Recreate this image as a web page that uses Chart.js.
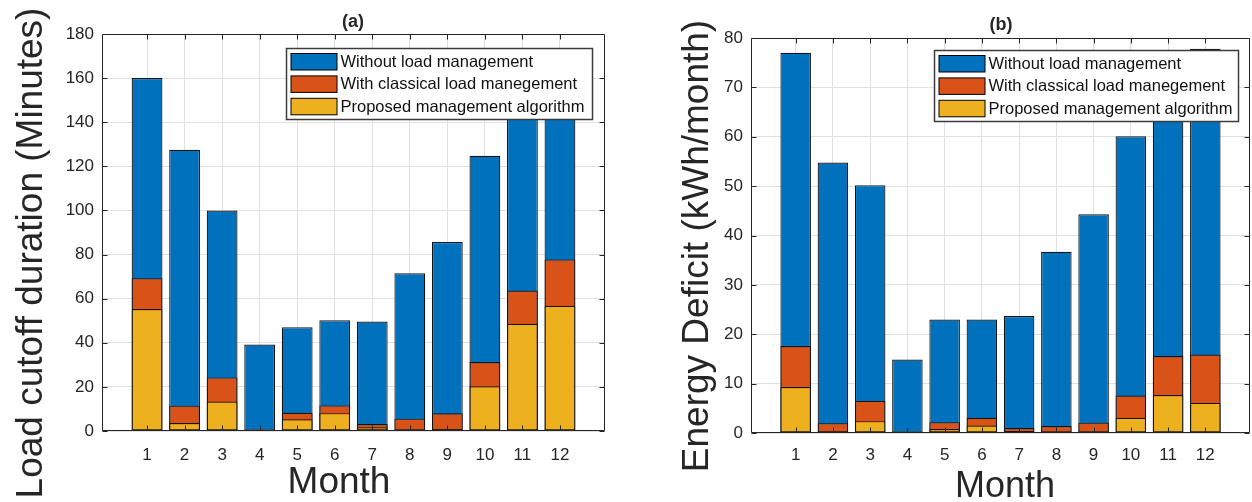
<!DOCTYPE html>
<html>
<head>
<meta charset="utf-8">
<script src="https://cdn.jsdelivr.net/npm/chart.js@4.4.1/dist/chart.umd.min.js"></script>
<style>
  html, body { margin: 0; padding: 0; background: #fff; }
  body { width: 1252px; height: 502px; position: relative; overflow: hidden; }
  .panel { position: absolute; top: 0; }
</style>
</head>
<body>
<div class="panel" style="left:0"><canvas id="chartA" width="620" height="502"></canvas></div>
<div class="panel" style="left:640px"><canvas id="chartB" width="612" height="502"></canvas></div>
<script>
// Daten
const months = [1, 2, 3, 4, 5, 6, 7, 8, 9, 10, 11, 12];
const seriesLabels = ['Without load management', 'With classical load manegement', 'Proposed management algorithm'];

// (a) Load cutoff duration in Minuten
const cutoffWithout   = [160, 127.5, 100, 39.2, 47, 50.2, 49.6, 71.5, 85.7, 124.8, 152, 158];
const cutoffClassical = [69.3, 11.5, 24.3, 0, 8.3, 11.6, 3.2, 5.6, 8.0, 31.3, 63.7, 77.8];
const cutoffProposed  = [55.3, 3.6, 13.4, 0, 5.3, 8.1, 1.7, 0.3, 0.8, 20.3, 48.6, 56.8];

// (b) Energy deficit in kWh/month
const deficitWithout   = [77, 54.8, 50.2, 14.9, 23, 23, 23.7, 36.7, 44.3, 60.1, 68, 77.8];
const deficitClassical = [17.6, 2.0, 6.5, 0, 2.2, 3.1, 1.0, 1.4, 2.1, 7.6, 15.6, 15.9];
const deficitProposed  = [9.3, 0.3, 2.4, 0, 0.8, 1.5, 0.4, 0.2, 0.2, 3.1, 7.7, 6.1];

const cutoffTicks  = [0, 20, 40, 60, 80, 100, 120, 140, 160, 180];
const deficitTicks = [0, 10, 20, 30, 40, 50, 60, 70, 80];

// Farben im MATLAB-Stil
const colors = ['#0072BD', '#D95319', '#EDB120'];
const axisColor = '#262626';
const gridColor = '#e0e0e0';
const fontFamily = '"Liberation Sans", Arial, Helvetica, sans-serif';

Chart.defaults.font.family = fontFamily;
Chart.defaults.color = axisColor;

/**
 * Zeichnet Rahmen, nach innen zeigende Ticks, Legende und Beschriftungen.
 */
const matlabFrame = {
    id: 'matlabFrame',
    afterDatasetsDraw(chart, args, opts) {
        const { ctx, chartArea: a, scales: { x, y } } = chart;
        ctx.save();
        ctx.strokeStyle = axisColor;
        ctx.lineWidth = 1;
        const L = Math.round(a.left) + 0.5, R = Math.round(a.right) - 0.5;
        const T = Math.round(a.top) + 0.5, B = Math.round(a.bottom) - 0.5;
        const tl = 5;
        ctx.beginPath();
        ctx.rect(L, T, R - L, B - T);
        x.ticks.forEach(t => {
            const px = Math.round(x.getPixelForValue(t.value)) + 0.5;
            ctx.moveTo(px, B); ctx.lineTo(px, B - tl);
            ctx.moveTo(px, T); ctx.lineTo(px, T + tl);
        });
        y.ticks.forEach(t => {
            const py = Math.round(y.getPixelForValue(t.value)) + 0.5;
            ctx.moveTo(L, py); ctx.lineTo(L + tl, py);
            ctx.moveTo(R, py); ctx.lineTo(R - tl, py);
        });
        ctx.stroke();

        // Legende innerhalb der Achsen (oben rechts)
        const lg = opts.legend;
        const bx = Math.round(a.right - lg.right - lg.width) + 0.5;
        const by = Math.round(a.top + lg.top) + 0.5;
        ctx.fillStyle = '#fff';
        ctx.fillRect(bx, by, lg.width, lg.height);
        ctx.strokeStyle = '#3c3c3c';
        ctx.lineWidth = 1.5;
        ctx.strokeRect(bx, by, lg.width, lg.height);
        ctx.lineWidth = 1;
        ctx.font = '16.5px ' + fontFamily;
        ctx.textBaseline = 'middle';
        ctx.textAlign = 'left';
        chart.data.datasets.forEach((ds, i) => {
            const sy = by + 5 + i * 22.4;
            ctx.fillStyle = ds.backgroundColor;
            ctx.fillRect(bx + 4.5, sy, 46, 16.5);
            ctx.strokeStyle = '#000';
            ctx.strokeRect(bx + 4.5, sy, 46, 16.5);
            ctx.fillStyle = '#111';
            ctx.fillText(ds.label, bx + 54, sy + 9);
        });
        ctx.restore();
    },
    afterDraw(chart, args, opts) {
        const { ctx } = chart;
        ctx.save();
        ctx.fillStyle = axisColor;
        // Titel
        ctx.font = 'bold 18px ' + fontFamily;
        ctx.textAlign = 'center';
        ctx.textBaseline = 'middle';
        ctx.fillText(opts.title.text, opts.title.x, opts.title.y);
        // x-Achsentitel
        ctx.font = opts.xTitle.size + 'px ' + fontFamily;
        ctx.textBaseline = 'alphabetic';
        ctx.fillText(opts.xTitle.text, opts.xTitle.x, opts.xTitle.y);
        // y-Achsentitel (gedreht)
        ctx.translate(opts.yTitle.x, opts.yTitle.y);
        ctx.rotate(-Math.PI / 2);
        ctx.font = opts.yTitle.size + 'px ' + fontFamily;
        ctx.fillText(opts.yTitle.text, 0, 0);
        ctx.restore();
    }
};

function makeDatasets(values) {
    // Reihenfolge: blau unten, gelb oben (order bestimmt Zeichenreihenfolge)
    return values.map((v, i) => ({
        label: seriesLabels[i],
        data: v,
        backgroundColor: colors[i],
        borderColor: '#141414',
        borderWidth: 1.2,
        borderSkipped: false,
        inflateAmount: 0,
        grouped: false,
        order: 3 - i,
        categoryPercentage: 1,
        barPercentage: 0.82
    }));
}

function makeChart(canvasId, values, ticks, frame) {
    const ctx = document.getElementById(canvasId).getContext('2d');
    return new Chart(ctx, {
        type: 'bar',
        data: { labels: months, datasets: makeDatasets(values) },
        options: {
            responsive: false,
            animation: false,
            layout: { padding: { top: frame.top, right: frame.right, left: 0, bottom: 0 } },
            scales: {
                x: {
                    type: 'linear',
                    offset: false,
                    min: -0.2,
                    max: 13.2,
                    afterBuildTicks: s => { s.ticks = months.map(m => ({ value: m })); },
                    afterFit: s => { s.height = frame.xHeight; },
                    grid: { color: gridColor, drawTicks: false, offset: false },
                    border: { display: false },
                    ticks: { padding: frame.xPad, font: { size: 17 }, color: axisColor }
                },
                y: {
                    min: ticks[0],
                    max: ticks[ticks.length - 1],
                    afterBuildTicks: s => { s.ticks = ticks.map(t => ({ value: t })); },
                    afterFit: s => { s.width = frame.yWidth; },
                    grid: { color: gridColor, drawTicks: false },
                    border: { display: false },
                    ticks: { padding: 8, font: { size: 17 }, color: axisColor }
                }
            },
            plugins: {
                legend: { display: false },
                tooltip: { enabled: false },
                matlabFrame: frame.labels
            }
        },
        plugins: [matlabFrame]
    });
}

makeChart('chartA', [cutoffWithout, cutoffClassical, cutoffProposed], cutoffTicks, {
    top: 34, right: 15, xHeight: 71, yWidth: 102, xPad: 14,
    labels: {
        title: { text: '(a)', x: 353, y: 22 },
        xTitle: { text: 'Month', x: 339, y: 493, size: 37 },
        yTitle: { text: 'Load cutoff duration (Minutes)', x: 41.5, y: 253, size: 37 },
        legend: { right: 12.7, top: 13.7, width: 306, height: 71 }
    }
});

makeChart('chartB', [deficitWithout, deficitClassical, deficitProposed], deficitTicks, {
    top: 38, right: 2, xHeight: 69, yWidth: 111, xPad: 12.5,
    labels: {
        title: { text: '(b)', x: 361, y: 25 },
        xTitle: { text: 'Month', x: 365, y: 497, size: 36 },
        yTitle: { text: 'Energy Deficit (kWh/month)', x: 67.5, y: 246, size: 37 },
        legend: { right: 11.7, top: 12.4, width: 304, height: 71 }
    }
});
</script>
</body>
</html>
